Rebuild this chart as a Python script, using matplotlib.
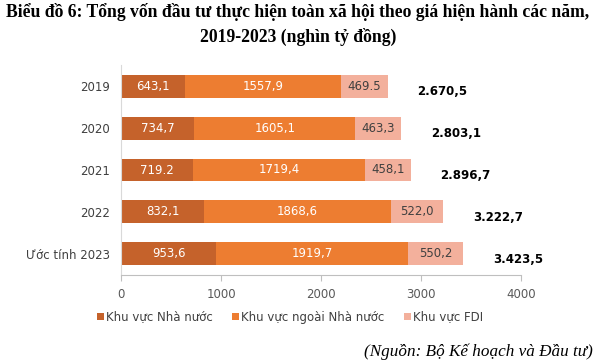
import matplotlib
matplotlib.use("Agg")
import matplotlib.pyplot as plt
import numpy as np

categories = ["2019", "2020", "2021", "2022", "Ước tính 2023"]
nha_nuoc = [643.1, 734.7, 719.2, 832.1, 953.6]
ngoai_nha_nuoc = [1557.9, 1605.1, 1719.4, 1868.6, 1919.7]
fdi = [469.5, 463.3, 458.1, 522.0, 550.2]
label_nn = ["643,1", "734,7", "719.2", "832,1", "953,6"]
label_ngoai = ["1557,9", "1605,1", "1719,4", "1868,6", "1919,7"]
label_fdi = ["469.5", "463,3", "458,1", "522,0", "550,2"]
totals = [2670.5, 2803.1, 2896.7, 3222.7, 3423.5]
label_total = ["2.670,5", "2.803,1", "2.896,7", "3.222,7", "3.423,5"]
series_names = ["Khu vực Nhà nước", "Khu vực ngoài Nhà nước", "Khu vực FDI"]
colors = ["#C5622B", "#ED7D31", "#F3B09C"]
xticks = [0, 1000, 2000, 3000, 4000]

fig = plt.figure(figsize=(5.96, 3.64), dpi=100)
ax = fig.add_axes([121/596, 1-274.5/364, 400/596, 209/364])

y = np.arange(len(categories))
h = 0.55
left = np.zeros(len(categories))
segs = [nha_nuoc, ngoai_nha_nuoc, fdi]
labs = [label_nn, label_ngoai, label_fdi]
tcolors = ["white", "white", "#404040"]
for vals, lab, col, tc, name in zip(segs, labs, colors, tcolors, series_names):
    vals = np.array(vals)
    ax.barh(y, vals, left=left, height=h, color=col, label=name)
    for yi, l, v, t in zip(y, left, vals, lab):
        ax.text(l + v/2, yi, t, ha="center", va="center", color=tc, fontsize=8.5)
    left = left + vals

for yi, tot, t in zip(y, totals, label_total):
    ax.text(tot + 295, yi + 0.13, t, ha="left", va="center", color="black",
            fontsize=8.5, fontweight="bold")

ax.set_xlim(0, 4000)
ax.set_ylim(4.5, -0.5)
ax.set_yticks(y)
ax.set_yticklabels(categories)
ax.set_xticks(xticks)
ax.set_xticklabels([str(v) for v in xticks])
for s in ["top", "right"]:
    ax.spines[s].set_visible(False)
ax.spines["left"].set_color("#D9D9D9")
ax.spines["bottom"].set_color("#BFBFBF")
ax.tick_params(axis="y", length=0, labelsize=8.5, labelcolor="#404040", pad=8)
ax.tick_params(axis="x", length=4, color="#BFBFBF", labelsize=8.5, labelcolor="#595959", pad=6)

fig.legend(loc="center", bbox_to_anchor=(290/596, 1-317/364), ncol=3, frameon=False,
           fontsize=8.5, handlelength=0.6, handleheight=0.6, handletextpad=0.2,
           columnspacing=1.6, labelcolor="#404040")

fig.text(0.5, 1-12/364, "Biểu đồ 6: Tổng vốn đầu tư thực hiện toàn xã hội theo giá hiện hành các năm,",
         ha="center", va="center", fontsize=12.7, fontweight="bold", family="Liberation Serif")
fig.text(0.5, 1-37/364, "2019-2023 (nghìn tỷ đồng)",
         ha="center", va="center", fontsize=12.7, fontweight="bold", family="Liberation Serif")
fig.text(593/596, 1-352/364, "(Nguồn: Bộ Kế hoạch và Đầu tư)", ha="right", va="center",
         fontsize=12.3, style="italic", family="Liberation Serif")

fig.savefig("out.png", dpi=100)
